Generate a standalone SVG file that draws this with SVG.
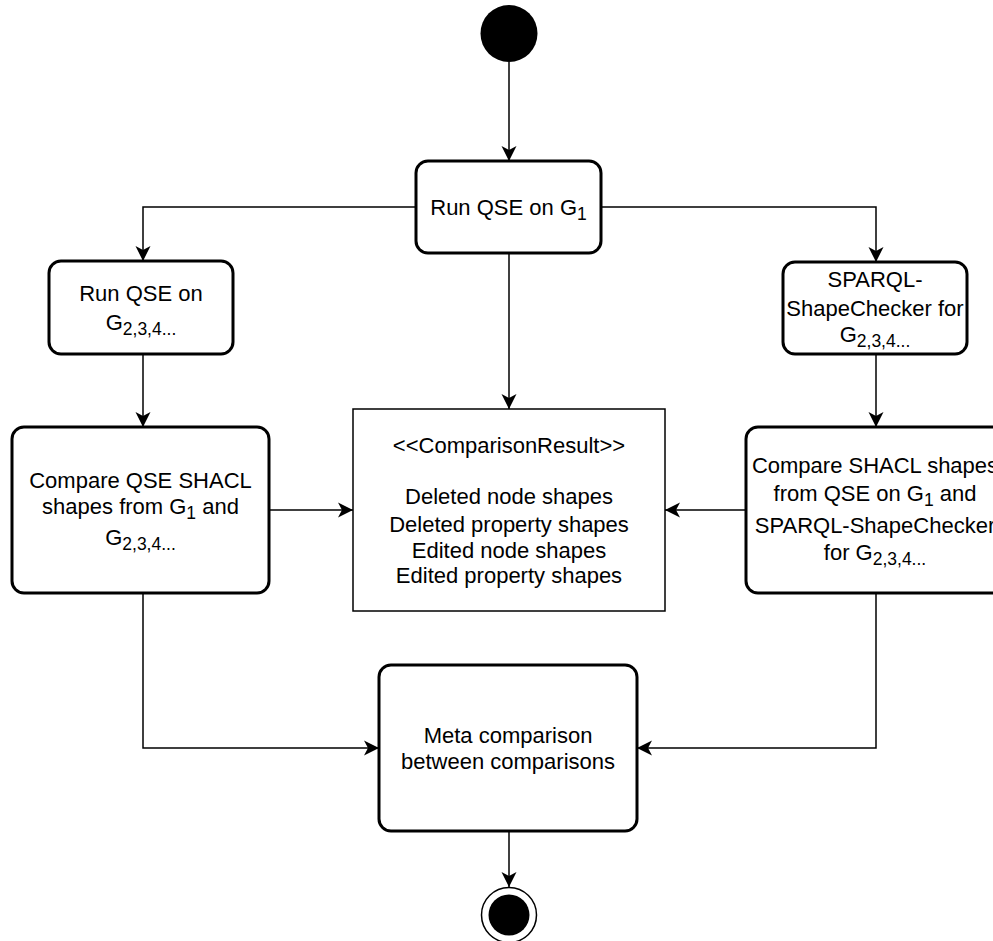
<svg xmlns="http://www.w3.org/2000/svg" width="993" height="941" viewBox="0 0 993 941">
<defs>
<style>
.box{fill:#fff;stroke:#000;stroke-width:3}
.note{fill:#fff;stroke:#000;stroke-width:1.5}
.t{font-family:"Liberation Sans",Arial,sans-serif;font-size:22px;text-anchor:middle;fill:#000}
.s{font-size:17.5px}
.c{fill:none;stroke:#000;stroke-width:1.5}
</style>
<marker id="a" markerUnits="userSpaceOnUse" markerWidth="20" markerHeight="20" viewBox="-16 -10 20 20" refX="0" refY="0" orient="auto">
<path d="M0,0 L-15,-7.5 L-11,0 L-15,7.5Z" fill="#000"/>
</marker>
</defs>
<rect width="993" height="941" fill="#fff"/>
<g id="connectors">
<path class="c" d="M509,62 V161" marker-end="url(#a)"/>
<path class="c" d="M416,207 H143 V261" marker-end="url(#a)"/>
<path class="c" d="M601,207 H876 V262" marker-end="url(#a)"/>
<path class="c" d="M509,253 V409" marker-end="url(#a)"/>
<path class="c" d="M143,354 V427" marker-end="url(#a)"/>
<path class="c" d="M876,354 V427" marker-end="url(#a)"/>
<path class="c" d="M269,510 H353" marker-end="url(#a)"/>
<path class="c" d="M746,510 H665" marker-end="url(#a)"/>
<path class="c" d="M143,593 V748 H379" marker-end="url(#a)"/>
<path class="c" d="M876,593 V748 H637" marker-end="url(#a)"/>
<path class="c" d="M509,831 V887" marker-end="url(#a)"/>
</g>
<g id="start">
<circle cx="509" cy="33.5" r="28.5" fill="#000"/>
</g>
<g id="runG1">
<rect class="box" x="416" y="161" width="185" height="92" rx="12"/>
<text class="t" x="508.5" y="214.5">Run QSE on G<tspan class="s" dy="5">1</tspan></text>
</g>
<g id="runG2">
<rect class="box" x="49" y="261" width="184" height="93" rx="12"/>
<text class="t" x="141" y="300.7">Run QSE on</text>
<text class="t" x="141" y="330">G<tspan class="s" dy="5">2,3,4...</tspan></text>
</g>
<g id="sparql">
<rect class="box" x="783" y="262" width="184" height="92" rx="12"/>
<text class="t" x="875" y="287">SPARQL-</text>
<text class="t" x="875" y="315.7">ShapeChecker for</text>
<text class="t" x="875" y="342">G<tspan class="s" dy="5">2,3,4...</tspan></text>
</g>
<g id="compareQSE">
<rect class="box" x="12" y="427" width="257" height="166" rx="12"/>
<text class="t" x="140.5" y="488.3">Compare QSE SHACL</text>
<text class="t" x="140.5" y="514">shapes from G<tspan class="s" dy="5">1</tspan><tspan dy="-5"> and</tspan></text>
<text class="t" x="140.5" y="545">G<tspan class="s" dy="5">2,3,4...</tspan></text>
</g>
<g id="compareSHACL">
<rect class="box" x="746" y="427" width="258" height="166" rx="12"/>
<text class="t" x="875" y="473.3">Compare SHACL shapes</text>
<text class="t" x="875" y="500.7">from QSE on G<tspan class="s" dy="5">1</tspan><tspan dy="-5"> and</tspan></text>
<text class="t" x="875" y="532.7">SPARQL-ShapeChecker</text>
<text class="t" x="875" y="560">for G<tspan class="s" dy="5">2,3,4...</tspan></text>
</g>
<g id="result">
<rect class="note" x="353" y="409" width="312" height="202"/>
<text class="t" x="509" y="452.7">&lt;&lt;ComparisonResult&gt;&gt;</text>
<text class="t" x="509" y="504.3">Deleted node shapes</text>
<text class="t" x="509" y="531.7">Deleted property shapes</text>
<text class="t" x="509" y="557.7">Edited node shapes</text>
<text class="t" x="509" y="583.3">Edited property shapes</text>
</g>
<g id="meta">
<rect class="box" x="379" y="665" width="258" height="166" rx="12"/>
<text class="t" x="508" y="743.3">Meta comparison</text>
<text class="t" x="508" y="769.3">between comparisons</text>
</g>
<g id="end">
<circle cx="509" cy="915" r="27.5" fill="#fff" stroke="#000" stroke-width="1.5"/>
<circle cx="509" cy="915" r="20.5" fill="#000"/>
</g>
</svg>
